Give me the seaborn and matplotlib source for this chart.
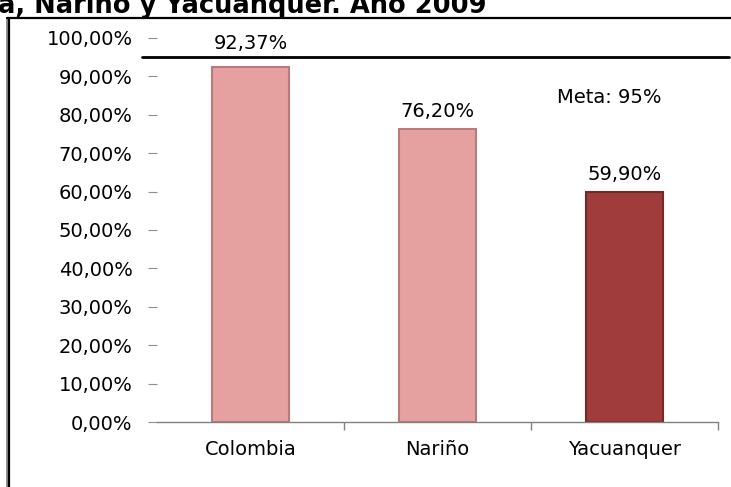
import matplotlib
matplotlib.use("Agg")
import matplotlib.pyplot as plt
import seaborn as sns
from matplotlib.lines import Line2D
from matplotlib.ticker import FixedLocator

regions = ["Colombia", "Nariño", "Yacuanquer"]
coverage = [92.37, 76.20, 59.90]
labels = ["92,37%", "76,20%", "59,90%"]
bar_colors = ["#E5A1A0", "#E5A1A0", "#A03C3B"]
edge_colors = ["#B97a79", "#B97a79", "#742928"]
goal = 95
goal_text = "Meta: 95%"
yticks = [0, 10, 20, 30, 40, 50, 60, 70, 80, 90, 100]
ytick_labels = ["%d,00%%" % t for t in yticks]
title = "a, Nariño y Yacuanquer. Año 2009"

sns.set_style("white")
plt.rcParams["font.family"] = ["DejaVu Sans"]
plt.rcParams["text.color"] = "black"
plt.rcParams["xtick.labelcolor"] = "black"
plt.rcParams["ytick.labelcolor"] = "black"

W, H = 731, 487
fig = plt.figure(figsize=(W / 100, H / 100), dpi=100)
ax = fig.add_axes([157 / W, 1 - 422 / H, (718 - 157) / W, (422 - 38) / H])

sns.barplot(x=regions, y=coverage, hue=regions, palette=bar_colors,
            width=0.41, legend=False, ax=ax, saturation=1)
for patch, ec in zip(ax.patches, edge_colors):
    patch.set_edgecolor(ec)
    patch.set_linewidth(1.5)

ax.set_xlim(-0.5, 2.5)
ax.set_ylim(0, 100)
ax.set_yticks(yticks)
ax.set_yticklabels(ytick_labels, fontsize=14)
ax.tick_params(axis="y", length=6.5, width=0.8, color="#909090", pad=11, left=True)
ax.tick_params(axis="x", length=0, pad=13, labelsize=14)
ax.xaxis.set_minor_locator(FixedLocator([0.5, 1.5, 2.5]))
ax.tick_params(axis="x", which="minor", length=6, width=1, color="#808080", bottom=True)
ax.set_xlabel("")
ax.set_ylabel("")

for s in ["top", "right", "left"]:
    ax.spines[s].set_visible(False)
ax.spines["bottom"].set_color("#808080")
ax.spines["bottom"].set_linewidth(1)

offsets = [10, 6, 6]
for i, (v, lab) in enumerate(zip(coverage, labels)):
    ax.annotate(lab, (i, v), xytext=(0, offsets[i]), textcoords="offset points",
                ha="center", va="bottom", fontsize=14)

# goal line spanning beyond the plot area
ax.plot([-0.58, 2.56], [goal, goal], color="black", lw=2, clip_on=False)
ax.text(1.92, 84.5, goal_text, ha="center", va="center", fontsize=14)

# frame of the original figure and clipped title
top = 1 - 18 / H
fig.add_artist(Line2D([7 / W, 7 / W], [0, top], color="#888888", lw=2))
fig.add_artist(Line2D([8.5 / W, 8.5 / W], [0, top], color="black", lw=1.6))
fig.add_artist(Line2D([7 / W, 1], [top, top], color="black", lw=1.6))
fig.text(-2 / W, 1 - 13 / H, title, ha="left", va="baseline",
         fontsize=18.5, fontweight="bold")

fig.savefig("out.png", dpi=100)
